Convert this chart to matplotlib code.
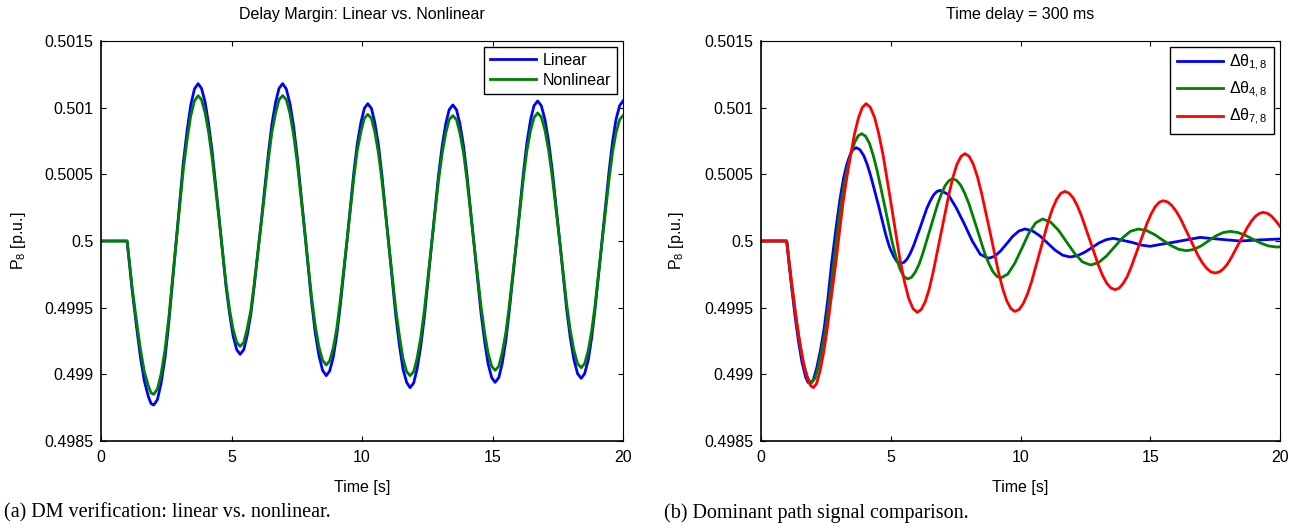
"""Delay margin check (linear vs nonlinear) and dominant path signal comparison."""
import matplotlib

matplotlib.use("Agg")
import matplotlib.pyplot as plt  # noqa: E402
from matplotlib.ticker import FixedLocator, FixedFormatter  # noqa: E402

# ---- panel (a): P8 response, linear vs nonlinear model -------------------
t_dm = [0, 1.0,
        1.10, 1.20, 1.36, 1.51, 1.66, 1.82, 1.92, 2.02,
        2.16, 2.30, 2.45, 2.59, 2.87, 3.15, 3.30, 3.44, 3.58, 3.72,
        3.85, 3.99, 4.12, 4.26, 4.53, 4.79, 4.93, 5.06, 5.20, 5.33,
        5.47, 5.60, 5.74, 5.87, 6.15, 6.42, 6.55, 6.69, 6.82, 6.96,
        7.10, 7.24, 7.38, 7.52, 7.80, 8.07, 8.21, 8.35, 8.49, 8.63,
        8.76, 8.90, 9.03, 9.16, 9.43, 9.69, 9.82, 9.96, 10.09, 10.22,
        10.36, 10.49, 10.63, 10.76, 11.03, 11.30, 11.44, 11.57, 11.71, 11.84,
        11.98, 12.11, 12.25, 12.39, 12.66, 12.93, 13.07, 13.21, 13.34, 13.48,
        13.62, 13.75, 13.89, 14.02, 14.29, 14.56, 14.70, 14.83, 14.97, 15.10,
        15.24, 15.37, 15.51, 15.64, 15.92, 16.19, 16.32, 16.46, 16.59, 16.73,
        16.87, 17.01, 17.15, 17.29, 17.57, 17.84, 17.98, 18.12, 18.26, 18.40,
        18.53, 18.67, 18.80, 18.93, 19.20, 19.47, 19.60, 19.73, 19.87, 20.0]
p_linear = [0.5, 0.5,
            0.49981, 0.49962, 0.49936, 0.49913, 0.49895, 0.49883, 0.49878, 0.49877,
            0.49881, 0.49893, 0.49912, 0.49937, 0.499975, 0.50058, 0.50083, 0.50102, 0.50114, 0.50118,
            0.501145, 0.50104, 0.50088, 0.50067, 0.500165, 0.49966, 0.49945, 0.49929, 0.499185, 0.49915,
            0.499185, 0.49929, 0.49945, 0.49966, 0.500165, 0.50067, 0.50088, 0.50104, 0.501145, 0.50118,
            0.50114, 0.50103, 0.50086, 0.50063, 0.500085, 0.49954, 0.49931, 0.49914, 0.49903, 0.49899,
            0.499025, 0.49913, 0.49929, 0.49950, 0.50001, 0.50052, 0.50073, 0.50089, 0.500995, 0.50103,
            0.500995, 0.50089, 0.50072, 0.50050, 0.499965, 0.49943, 0.49921, 0.49904, 0.49894, 0.49890,
            0.498935, 0.49904, 0.49921, 0.49943, 0.49996, 0.50049, 0.50071, 0.50088, 0.500985, 0.50102,
            0.500985, 0.50088, 0.500715, 0.50050, 0.49998, 0.49946, 0.499245, 0.49908, 0.498975, 0.49894,
            0.498975, 0.49908, 0.49925, 0.49947, 0.499995, 0.50052, 0.50074, 0.50091, 0.501015, 0.50105,
            0.501015, 0.50091, 0.500745, 0.50053, 0.50001, 0.49949, 0.499275, 0.49911, 0.499005, 0.49897,
            0.499005, 0.49911, 0.499275, 0.49949, 0.50001, 0.50053, 0.500745, 0.50091, 0.501015, 0.50105]
p_nonlinear = [0.5, 0.5,
               0.49982, 0.49964, 0.49940, 0.49919, 0.49902, 0.49891, 0.49886, 0.49885,
               0.49889, 0.49900, 0.49918, 0.49941, 0.49997, 0.50053, 0.50076, 0.50094, 0.50105, 0.50109,
               0.50106, 0.50096, 0.50082, 0.50062, 0.50015, 0.49968, 0.49948, 0.49934, 0.49924, 0.49921,
               0.49924, 0.49934, 0.49948, 0.49968, 0.50015, 0.50062, 0.50082, 0.50096, 0.50106, 0.50109,
               0.50106, 0.500955, 0.500795, 0.500585, 0.50008, 0.499575, 0.499365, 0.499205, 0.499105, 0.49907,
               0.49910, 0.49920, 0.49934, 0.49954, 0.50001, 0.50048, 0.50068, 0.50082, 0.50092, 0.50095,
               0.50092, 0.50082, 0.50066, 0.50046, 0.49997, 0.49948, 0.49928, 0.49912, 0.49902, 0.49899,
               0.49902, 0.49912, 0.499275, 0.49948, 0.499965, 0.50045, 0.500655, 0.50081, 0.50091, 0.50094,
               0.50091, 0.50081, 0.50066, 0.50046, 0.499985, 0.49951, 0.49931, 0.49916, 0.49906, 0.49903,
               0.49906, 0.49916, 0.49931, 0.49951, 0.499995, 0.50048, 0.50068, 0.50083, 0.500925, 0.50096,
               0.50093, 0.50083, 0.50068, 0.50048, 0.500005, 0.49953, 0.49933, 0.49918, 0.49908, 0.49905,
               0.49908, 0.49918, 0.499325, 0.49952, 0.499995, 0.50047, 0.500665, 0.50081, 0.50091, 0.50094]

# ---- panel (b): P8 for three feedback signals, 300 ms delay --------------
t_18 = [0, 0.99, 1.08, 1.17, 1.31, 1.45, 1.58, 1.72, 1.81, 1.90,
        2.02, 2.15, 2.29, 2.43, 2.58, 2.72, 2.88, 3.04, 3.18, 3.30, 3.42, 3.54, 3.67,
        3.81, 3.96, 4.10, 4.24, 4.53, 4.81, 4.95, 5.10, 5.24, 5.38,
        5.51, 5.63, 5.76, 5.89, 6.14, 6.39, 6.52, 6.65, 6.77, 6.90,
        7.21, 7.52, 7.83, 8.14, 8.45, 8.76,
        9.00, 9.23, 9.47, 9.70, 9.94, 10.17,
        10.46, 10.75, 11.04, 11.33, 11.62, 11.91,
        12.19, 12.47, 12.75, 13.02, 13.30, 13.58,
        13.93, 14.29, 14.64, 14.99, 15.47, 15.96, 16.44, 16.92, 17.69, 18.46, 19.20, 20.0]
p_18 = [0.5, 0.5, 0.49983, 0.49967, 0.49944, 0.49924, 0.49909, 0.49898, 0.49894, 0.49893,
        0.49896, 0.49905, 0.49918, 0.49934, 0.49957, 0.49983, 0.50008, 0.50031, 0.50047, 0.50057,
        0.50064, 0.500685, 0.50070,
        0.500685, 0.50064, 0.50057, 0.50048, 0.500265, 0.500045, 0.499955, 0.49989, 0.499845, 0.49983,
        0.49984, 0.499865, 0.49991, 0.49997, 0.500105, 0.500245, 0.50030, 0.500345, 0.50037, 0.50038,
        0.50035, 0.50025, 0.50013, 0.50000, 0.49990, 0.49987,
        0.499885, 0.499925, 0.49998, 0.500035, 0.500075, 0.50009,
        0.500076, 0.500038, 0.499985, 0.499932, 0.499894, 0.49988,
        0.49989, 0.499915, 0.49995, 0.499985, 0.50001, 0.50002,
        0.500005, 0.49999, 0.49997, 0.49996, 0.499977, 0.499993, 0.50001, 0.500027, 0.500013, 0.5,
        0.500008, 0.500015]

t_48 = [0, 0.99, 1.09, 1.18, 1.33, 1.48, 1.62, 1.77, 1.86, 1.96,
        2.08, 2.20, 2.34, 2.49, 2.64, 2.80, 2.94, 3.08, 3.20, 3.33, 3.47, 3.61, 3.75, 3.88,
        4.03, 4.18, 4.32, 4.47, 4.77, 5.06, 5.21, 5.36, 5.50, 5.65,
        5.80, 5.94, 6.09, 6.23, 6.52, 6.81, 6.96, 7.10, 7.25, 7.39,
        7.54, 7.70, 7.85, 8.01, 8.32, 8.62, 8.78, 8.93, 9.09, 9.24,
        9.51, 9.78, 10.05, 10.31, 10.58, 10.85,
        11.16, 11.47, 11.78, 12.09, 12.39, 12.70,
        13.01, 13.31, 13.62, 13.93, 14.23, 14.54,
        14.85, 15.16, 15.47, 15.78, 16.09, 16.40,
        16.68, 16.96, 17.24, 17.51, 17.79, 18.07,
        18.37, 18.66, 18.96, 19.26, 19.55, 19.85, 20.0]
p_48 = [0.5, 0.5, 0.499835, 0.49967, 0.49945, 0.49925, 0.49910, 0.49899, 0.49895, 0.49894,
        0.49897, 0.49905, 0.49918, 0.49934, 0.49957, 0.49983, 0.50007, 0.50028, 0.50042, 0.50055,
        0.50066, 0.50074, 0.50079, 0.500805,
        0.500786, 0.500732, 0.500646, 0.500532, 0.50026, 0.499987, 0.499874, 0.499788, 0.499734, 0.499715,
        0.499728, 0.499765, 0.499825, 0.499903, 0.500091, 0.500279, 0.500357, 0.500417, 0.500454, 0.500467,
        0.500454, 0.500417, 0.500358, 0.500281, 0.500094, 0.499908, 0.499831, 0.499772, 0.499735, 0.499722,
        0.499752, 0.499833, 0.499944, 0.500054, 0.500135, 0.500165,
        0.500142, 0.500079, 0.499992, 0.499906, 0.499843, 0.49982,
        0.499838, 0.499887, 0.499955, 0.500023, 0.500072, 0.50009,
        0.500079, 0.500049, 0.500008, 0.499968, 0.499938, 0.499927,
        0.499937, 0.499963, 0.5, 0.500036, 0.500062, 0.500072,
        0.500064, 0.500043, 0.500013, 0.499984, 0.499963, 0.499955, 0.499956]

t_78 = [0, 0.99, 1.09, 1.20, 1.35, 1.51, 1.66, 1.81, 1.92, 2.02,
        2.14, 2.28, 2.41, 2.55, 2.71, 2.88, 3.03, 3.17, 3.31, 3.45, 3.60, 3.75, 3.90, 4.05,
        4.21, 4.38, 4.54, 4.71, 5.04, 5.36, 5.53, 5.69, 5.86, 6.02,
        6.17, 6.33, 6.48, 6.63, 6.94, 7.25, 7.40, 7.55, 7.71, 7.86,
        8.02, 8.18, 8.34, 8.50, 8.83, 9.15, 9.31, 9.47, 9.63, 9.79,
        9.95, 10.11, 10.27, 10.43, 10.75, 11.07, 11.23, 11.39, 11.55, 11.71,
        11.87, 12.03, 12.19, 12.35, 12.68, 13.00, 13.16, 13.32, 13.48, 13.64,
        13.80, 13.95, 14.11, 14.26, 14.57, 14.88, 15.04, 15.19, 15.35, 15.50,
        15.67, 15.83, 16.00, 16.17, 16.50, 16.83, 17.00, 17.17, 17.33, 17.50,
        17.66, 17.81, 17.97, 18.12, 18.43, 18.74, 18.90, 19.05, 19.21, 19.36,
        19.52, 19.68, 19.84, 20.0]
p_78 = [0.5, 0.5, 0.49983, 0.49966, 0.499425, 0.49922, 0.49906, 0.498955, 0.498915, 0.49890,
        0.49893, 0.49903, 0.49916, 0.49934, 0.49958, 0.49983, 0.50008, 0.50030, 0.50048, 0.50064,
        0.50080, 0.50092, 0.50100, 0.50103,
        0.501003, 0.500925, 0.500802, 0.500639, 0.500247, 0.499856, 0.499693, 0.49957, 0.499492, 0.499465,
        0.499485, 0.499545, 0.499639, 0.499763, 0.50006, 0.500358, 0.500481, 0.500575, 0.500635, 0.500655,
        0.500635, 0.500576, 0.500482, 0.500359, 0.500063, 0.499768, 0.499645, 0.499551, 0.499492, 0.499472,
        0.499487, 0.499532, 0.499603, 0.499697, 0.499922, 0.500147, 0.500241, 0.500312, 0.500357, 0.500372,
        0.500359, 0.500323, 0.500264, 0.500188, 0.500003, 0.499819, 0.499743, 0.499684, 0.499648, 0.499635,
        0.499646, 0.49968, 0.499732, 0.499802, 0.499969, 0.500135, 0.500205, 0.500257, 0.500291, 0.500302,
        0.500293, 0.500266, 0.500223, 0.500166, 0.500031, 0.499895, 0.499839, 0.499796, 0.499769, 0.49976,
        0.499768, 0.49979, 0.499826, 0.499874, 0.499988, 0.500101, 0.500149, 0.500185, 0.500207, 0.500215,
        0.500207, 0.500185, 0.50015, 0.50011]

x_ticks = [0, 5, 10, 15, 20]
x_tick_labels = ["0", "5", "10", "15", "20"]
y_ticks = [0.4985, 0.499, 0.4995, 0.5, 0.5005, 0.501, 0.5015]
y_tick_labels = ["0.4985", "0.499", "0.4995", "0.5", "0.5005", "0.501", "0.5015"]

titles = ["Delay Margin: Linear vs. Nonlinear", "Time delay = 300 ms"]
captions = ["(a) DM verification: linear vs. nonlinear.",
            "(b) Dominant path signal comparison."]

BLUE, GREEN, RED = "#0000ff", "#008000", "#ff0000"


def style_axes(ax, title, label_x):
    ax.set_xlim(0, 20)
    ax.set_ylim(0.4985, 0.5015)
    ax.xaxis.set_major_locator(FixedLocator(x_ticks))
    ax.xaxis.set_major_formatter(FixedFormatter(x_tick_labels))
    ax.yaxis.set_major_locator(FixedLocator(y_ticks))
    ax.yaxis.set_major_formatter(FixedFormatter(y_tick_labels))
    ax.tick_params(direction="in", top=True, right=True, length=3.6, width=0.8,
                   labelsize=11.5)
    ax.tick_params(axis="x", pad=6.5)
    ax.tick_params(axis="y", pad=5.5)
    for side in ("top", "right"):
        ax.spines[side].set_linewidth(0.8)
    for side in ("left", "bottom"):
        ax.spines[side].set_linewidth(1.2)
    ax.set_title(title, fontsize=11.5, pad=15.5)
    ax.set_xlabel("Time [s]", fontsize=11.5, labelpad=10.5)
    ax.set_ylabel("P$_8$ [p.u.]", fontsize=11.5)
    ax.yaxis.set_label_coords(label_x, 0.5)


def add_legend(ax, spacing):
    leg = ax.legend(loc="upper right", fontsize=11.5, fancybox=False, framealpha=1,
                    edgecolor="black", borderaxespad=0.35, handlelength=2.9,
                    handletextpad=0.4, labelspacing=spacing, borderpad=0.4)
    leg.get_frame().set_linewidth(1.0)


def main():
    plt.rcParams["font.family"] = ["Liberation Sans", "DejaVu Sans"]
    plt.rcParams["mathtext.fontset"] = "custom"
    plt.rcParams["mathtext.rm"] = "Liberation Sans"
    plt.rcParams["mathtext.it"] = "Liberation Sans:italic"

    fig = plt.figure(figsize=(13.02, 5.31), dpi=100)
    ax1 = fig.add_axes([101 / 1302, 90 / 531, 522 / 1302, 400 / 531])
    ax2 = fig.add_axes([761 / 1302, 90 / 531, 519 / 1302, 400 / 531])

    ax1.plot(t_dm, p_linear, color=BLUE, linewidth=2.0, label="Linear")
    ax1.plot(t_dm, p_nonlinear, color=GREEN, linewidth=2.0, label="Nonlinear")
    style_axes(ax1, titles[0], -0.14)
    add_legend(ax1, 0.3)

    ax2.plot(t_18, p_18, color=BLUE, linewidth=2.0, label="Δθ$_{1,8}$")
    ax2.plot(t_48, p_48, color=GREEN, linewidth=2.0, label="Δθ$_{4,8}$")
    ax2.plot(t_78, p_78, color=RED, linewidth=2.0, label="Δθ$_{7,8}$")
    style_axes(ax2, titles[1], -0.145)
    add_legend(ax2, 0.42)

    fig.text(4 / 1302, 18 / 531, captions[0], family="Liberation Serif", fontsize=14.5,
             ha="left", va="center")
    fig.text(664 / 1302, 18 / 531, captions[1], family="Liberation Serif", fontsize=14.5,
             ha="left", va="center")

    fig.savefig("out.png", dpi=100)
    plt.close(fig)


if __name__ == "__main__":
    main()
